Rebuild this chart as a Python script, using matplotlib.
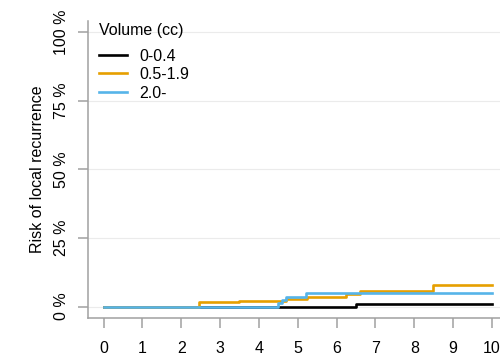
import matplotlib
matplotlib.use('Agg')
from matplotlib import pyplot as plt

plt.rcParams['font.family'] = ['Liberation Sans', 'DejaVu Sans']

# step curves: (time, risk %) pairs, value holds from the time onward
t_low = [0, 6.5, 10]
r_low = [0, 1.0, 1.0]
t_mid = [0, 2.47, 3.48, 4.7, 5.25, 6.25, 6.6, 8.47, 10]
r_mid = [0, 1.5, 2.1, 2.8, 3.5, 4.6, 5.8, 7.8, 7.8]
t_high = [0, 4.5, 4.6, 4.7, 5.22, 10]
r_high = [0, 1.2, 2.4, 3.6, 5.1, 5.1]

labels = ['0-0.4', '0.5-1.9', '2.0-']
colors = ['#000000', '#E69F00', '#56B4E9']
xticks = list(range(0, 11))
yticks = [0, 25, 50, 75, 100]

fs = 11.5
fig = plt.figure(figsize=(5, 3.58), dpi=100)
ax = fig.add_axes([0.176, 0.113, 0.839, 0.828])

for t, r, lab, c in zip([t_low, t_mid, t_high], [r_low, r_mid, r_high], labels, colors):
    ax.step(t, r, where='post', color=c, lw=1.9, label=lab)

ax.set_xlim(-0.4, 10.4)
ax.set_ylim(-4, 104)
ax.set_xticks(xticks)
ax.set_yticks(yticks)
ax.set_yticklabels([f'{v} %' for v in yticks], rotation=90, va='center')
ax.grid(axis='y', color='#ebebeb', lw=0.8)
ax.set_axisbelow(True)

for s in ['top', 'right']:
    ax.spines[s].set_visible(False)
for s in ['left', 'bottom']:
    ax.spines[s].set_color('#a0a0a0')
    ax.spines[s].set_linewidth(1.1)
ax.tick_params(colors='#a0a0a0', labelcolor='black', labelsize=fs, length=7, width=1.1)
ax.tick_params(axis='x', pad=10)
ax.tick_params(axis='y', pad=7)
ax.set_ylabel('Risk of local recurrence', fontsize=fs, labelpad=6.5)

leg = ax.legend(title='Volume (cc)', loc='upper left', frameon=False, fontsize=fs,
                title_fontsize=fs, handlelength=1.75, handletextpad=0.8,
                borderaxespad=0.0, borderpad=0.1, labelspacing=0.22,
                bbox_to_anchor=(0.022, 1.0))
leg._legend_box.align = 'left'
leg._legend_box.sep = 7.8

fig.savefig('out.png', dpi=100)
